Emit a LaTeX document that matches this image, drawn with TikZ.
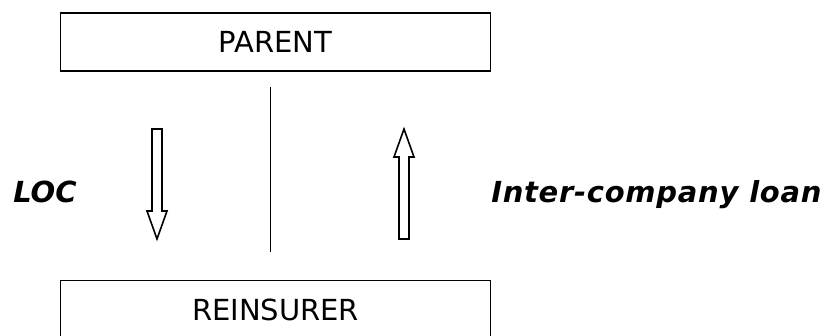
\documentclass[tikz,border=0pt]{standalone}
\usepackage{fontspec}
\setmainfont{DejaVu Sans}
\begin{document}
\begin{tikzpicture}[x=0.75pt,y=-0.75pt,
  boxstyle/.style={draw=black,line width=1.3pt,minimum width=430*0.75pt,minimum height=58*0.75pt,inner sep=0pt,
    font=\fontsize{21.75pt}{26pt}\selectfont},
  lbl/.style={inner sep=0pt,font=\fontsize{21.75pt}{26pt}\selectfont\bfseries\itshape},
  blockarrow/.style={draw=black,line width=1.2pt,fill=white,line join=miter},
  midline/.style={draw=black,line width=1.4pt}]
\useasboundingbox (0,0) rectangle (826,336);
\fill[white] (0,0) rectangle (826,336);
\node[boxstyle] (parent) at (275.5,42) {PARENT};
\node[boxstyle] (reins) at (275.5,309.5) {REINSURER};
\coordinate (mtop) at (270.5,87);
\coordinate (mbot) at (270.5,252);
\draw[midline] (mtop) -- (mbot);
% down arrow
\draw[blockarrow] (152,129) -- (162,129) -- (162,211) -- (167,211) -- (157,239) -- (147,211) -- (152,211) -- cycle;
% up arrow
\draw[blockarrow] (399,239) -- (409,239) -- (409,157) -- (414,157) -- (404,129) -- (394,157) -- (399,157) -- cycle;
\node[lbl,anchor=base west] (loc) at (13,202) {LOC};
\node[lbl,anchor=base west] (icl) at (491,202) {\addfontfeatures{LetterSpace=2.5}Inter-company loan};
\end{tikzpicture}
\end{document}
